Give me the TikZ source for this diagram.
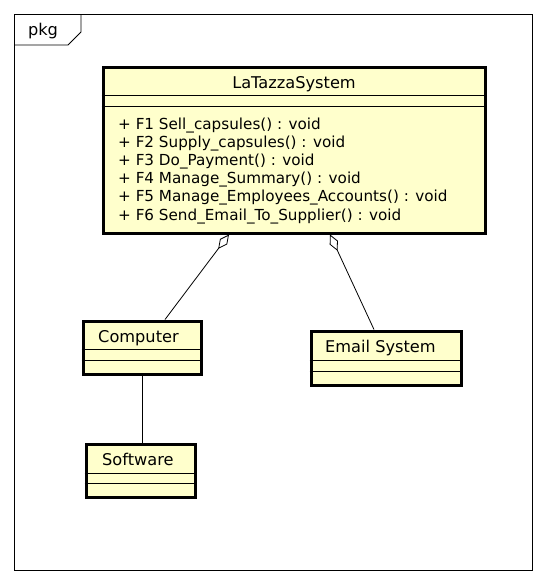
\documentclass[tikz,border=0pt]{standalone}
\usepackage{fontspec}
\setmainfont{DejaVu Sans}
\usetikzlibrary{arrows.meta,positioning}
\definecolor{umlfill}{RGB}{255,255,204}

\begin{document}
\begin{tikzpicture}[x=1pt,y=-1pt,
    cls/.style={draw,line width=3pt,fill=umlfill,inner sep=0pt},
    clsname/.style={inner sep=0pt,font=\fontsize{16.2}{19}\selectfont},
    meth/.style={inner sep=0pt,anchor=base west,font=\fontsize{15.2}{18}\selectfont},
    sep/.style={line width=0.9pt},
    aggr/.style={line width=0.8pt,{Diamond[open,length=18pt,width=9pt]}-}]
      \useasboundingbox (0,0) rectangle (546,584);
      % package frame
      \draw[line width=0.8pt] (14,14) rectangle (532,570);
      \draw[line width=0.8pt] (14,45) -- (68,45) -- (81,32) -- (81,14);
      \node[clsname] (pkg) at (43,31) {pkg};

      % classes
      \node[cls,minimum width=382pt,minimum height=166pt] (sys) at (294,150) {};
      \node[cls,minimum width=118pt,minimum height=53pt] (comp) at (142,347.5) {};
      \node[cls,minimum width=150pt,minimum height=54pt] (mail) at (386,358) {};
      \node[cls,minimum width=109pt,minimum height=53pt] (soft) at (140.5,470.5) {};

      \draw[sep] (sys.west |- 0,95) -- (sys.east |- 0,95);
      \draw[sep] (sys.west |- 0,106) -- (sys.east |- 0,106);
      \draw[sep] (comp.west |- 0,349) -- (comp.east |- 0,349);
      \draw[sep] (comp.west |- 0,360) -- (comp.east |- 0,360);
      \draw[sep] (mail.west |- 0,360) -- (mail.east |- 0,360);
      \draw[sep] (mail.west |- 0,371) -- (mail.east |- 0,371);
      \draw[sep] (soft.west |- 0,473) -- (soft.east |- 0,473);
      \draw[sep] (soft.west |- 0,483) -- (soft.east |- 0,483);

      \node[clsname,anchor=base] (sysname) at (294,88) {LaTazzaSystem};
      \node[clsname,anchor=base west] (compname) at (98,342) {Computer};
      \node[clsname,anchor=base west] (mailname) at (325,352) {Email System};
      \node[clsname,anchor=base west] (softname) at (102,465) {Software};

      \foreach \txt [count=\i] in {F1 Sell\_capsules() : void,
          F2 Supply\_capsules() : void,
          F3 Do\_Payment() : void,
          F4 Manage\_Summary() : void,
          F5 Manage\_Employees\_Accounts() : void,
          F6 Send\_Email\_To\_Supplier() : void}
        \node[meth] (m\i) at (118,{129+18.2*(\i-1)}) {+ \txt};

      % associations
      \draw[aggr] ([xshift=-65pt]sys.south) -- ([xshift=23pt]comp.north);
      \draw[aggr] ([xshift=36pt]sys.south) -- ([xshift=-12pt]mail.north);
      \draw[line width=0.8pt] (comp.south) -- (comp.south |- soft.north);
\end{tikzpicture}
\end{document}
